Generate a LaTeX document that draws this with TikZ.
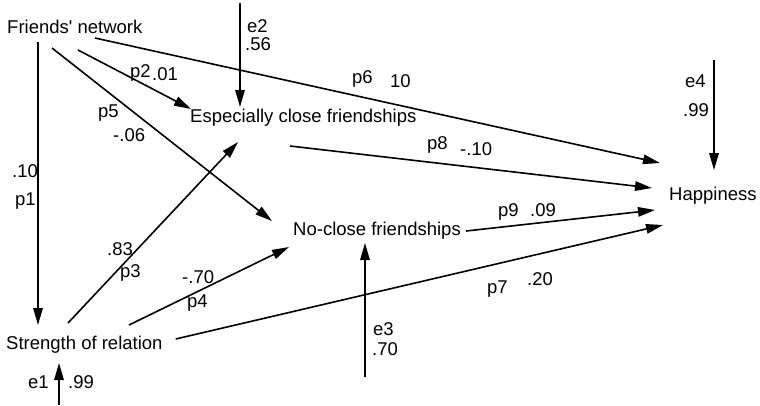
\documentclass[tikz,border=0pt]{standalone}
\usepackage{fontspec}
\setmainfont{Liberation Sans}
\usetikzlibrary{arrows.meta}
\begin{document}
\begin{tikzpicture}[x=1pt,y=-1pt,
  every node/.style={inner sep=0pt,font=\fontsize{18.5}{20}\selectfont},
  var/.style={anchor=base west},
  lbl/.style={anchor=base west},
  arr/.style={line width=1.6pt,-{Triangle[length=17pt,width=9.5pt]}}]
  \useasboundingbox (0,0) rectangle (760,405);
  % variables
  \node[var] (fn)  at (7,33)    {Friends\textquotesingle{} network};
  \node[var] (ecf) at (190,122) {Especially close friendships};
  \node[var] (ncf) at (293,235) {No-close friendships};
  \node[var] (sr)  at (6,349)   {Strength of relation};
  \node[var] (hap) at (669,200) {Happiness};
  % error terms
  \coordinate (e1) at (59,405);
  \coordinate (e2) at (240,3);
  \coordinate (e3) at (365,377);
  \coordinate (e4) at (714,60);
  % paths
  \draw[arr] ([xshift=31pt,yshift=-9pt]fn.base west) -- ([xshift=32pt,yshift=24pt]sr.base west);
  \draw[arr] ([xshift=71pt,yshift=-17pt]fn.base west) -- ([xshift=1pt,yshift=13pt]ecf.base west);
  \draw[arr] ([xshift=45pt,yshift=-15pt]fn.base west) -- ([xshift=-21pt,yshift=14pt]ncf.base west);
  \draw[arr] ([xshift=88pt,yshift=-5pt]fn.base west) -- ([xshift=-9pt,yshift=37pt]hap.base west);
  \draw[arr] ([xshift=100pt,yshift=-24pt]ecf.base west) -- ([xshift=-17pt,yshift=12pt]hap.base west);
  \draw[arr] ([xshift=5pt,yshift=4pt]ncf.base east) -- ([xshift=-14pt,yshift=-10pt]hap.base west);
  \draw[arr] ([xshift=13pt,yshift=10pt]sr.base east) -- ([xshift=-6pt,yshift=-25pt]hap.base west);
  \draw[arr] ([xshift=62pt,yshift=26pt]sr.base west) -- ([xshift=48pt,yshift=-20pt]ecf.base west);
  \draw[arr] ([xshift=123pt,yshift=24pt]sr.base west) -- ([xshift=-4pt,yshift=-12pt]ncf.base west);
  % disturbances
  \draw[arr] (e1) -- ([xshift=53pt,yshift=-14pt]sr.base west);
  \draw[arr] (e2) -- ([xshift=50pt,yshift=15pt]ecf.base west);
  \draw[arr] (e3) -- ([xshift=72pt,yshift=-8pt]ncf.base west);
  \draw[arr] (e4) -- ([xshift=45pt,yshift=30pt]hap.base west);
  % coefficients
  \foreach \n/\x/\y/\t in {c1/12/177/.10, p1/15/205/p1,
      e2t/247/32/e2, c2e/245/50/.56, p2/130/77/p2, c2/152/80/.01,
      p5/98/117/p5, c5/113/141/-.06, p6/352/83/p6, c6/390/87/10,
      p8/427/149/p8, c8/460/155/-.10, p9/498/216/p9, c9/530/216/.09,
      p7/487/293/p7, c7/527/285/.20, c3/107/255/.83, p3/120/277/p3,
      c4/182/283/-.70, p4/187/307/p4, e1t/28/388/e1, c1e/68/388/.99,
      e3t/373/335/e3, c3e/372/355/.70, e4t/685/87/e4, c4e/683/116/.99}
    \node[lbl] (\n) at (\x,\y) {\t};
\end{tikzpicture}
\end{document}
